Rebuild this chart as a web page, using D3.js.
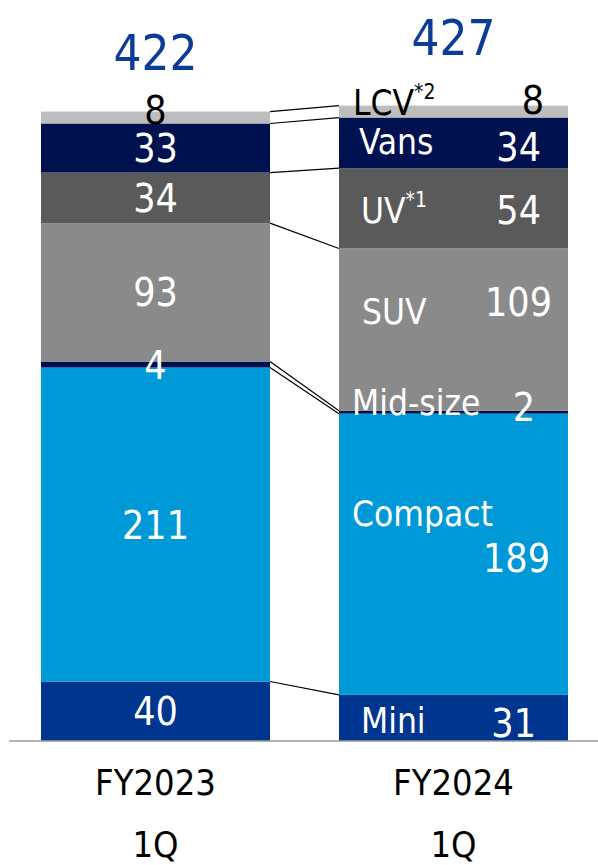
<!DOCTYPE html>
<html lang="en">
<head>
<meta charset="UTF-8">
<script src="https://d3js.org/d3.v7.min.js"></script>
<style>
  body { margin: 0; background: #fff; }
  svg text {
    font-family: "DejaVu Sans Condensed", "DejaVu Sans", sans-serif;
    font-stretch: condensed;
  }
</style>
</head>
<body>
<svg width="598" height="865"></svg>
<script>
// data
const periods = ["FY2023", "FY2024"];
const quarters = ["1Q", "1Q"];
const segments = ["Mini", "Compact", "Mid-size", "SUV", "UV", "Vans", "LCV"];
const fy2023 = [40, 211, 4, 93, 34, 33, 8];
const fy2024 = [31, 189, 2, 109, 54, 34, 8];
const totals = [422, 427];
const superscripts = { "UV": "*1", "LCV": "*2" };

// colours
const color = d3.scaleOrdinal()
    .domain(segments)
    .range(["#00358f", "#0099d8", "#00114f", "#8a8a8a", "#5a5a5a", "#00114f", "#bdbdbd"]);

// label nudges relative to segment centre (layout only)
const left2023 = { "LCV": -8 };
const nameOff = { "LCV": -9, "Vans": -1, "UV": 2, "SUV": -18, "Mid-size": -10, "Compact": -41, "Mini": 2 };
const numOff = { "LCV": -12, "Vans": 4, "UV": 2, "SUV": -28, "Mid-size": -5, "Compact": 4, "Mini": 5 };
const nameX = { "LCV": 14, "Vans": 20, "UV": 22, "SUV": 23, "Mid-size": 13, "Compact": 13, "Mini": 22 };
const numX = { "LCV": -24, "Vans": -27, "UV": -27, "SUV": -16, "Mid-size": -33, "Compact": -18, "Mini": -32 };
const totalOff = [-43, -51];

const svg = d3.select("svg");

const rows = [fy2023, fy2024].map((vals, i) => {
    const r = { period: periods[i] };
    segments.forEach((s, j) => r[s] = vals[j]);
    return r;
});
const series = d3.stack().keys(segments)(rows);

const x = d3.scaleBand()
    .domain(periods)
    .range([41, 568])
    .paddingInner(0.2315)
    .paddingOuter(0);

const y = d3.scaleLinear()
    .domain([0, 430])
    .range([741, 741 - 430 * 1.488]);

// bars
svg.append("g")
    .selectAll("g")
    .data(series)
    .join("g")
    .attr("fill", d => color(d.key))
    .selectAll("rect")
    .data(d => d)
    .join("rect")
    .attr("x", d => x(d.data.period))
    .attr("y", d => y(d[1]))
    .attr("width", x.bandwidth())
    .attr("height", d => y(d[0]) - y(d[1]));

// connector lines between segment tops
svg.append("g")
    .selectAll("line")
    .data(series)
    .join("line")
    .attr("x1", x(periods[0]) + x.bandwidth())
    .attr("y1", d => y(d[0][1]))
    .attr("x2", x(periods[1]))
    .attr("y2", d => y(d[1][1]))
    .attr("stroke", "#000")
    .attr("stroke-width", 1.2);

// axis line
svg.append("line")
    .attr("x1", 9).attr("x2", 598)
    .attr("y1", y(0)).attr("y2", y(0))
    .attr("stroke", "#9a9a9a")
    .attr("stroke-width", 1.5);

const textColor = k => k === "LCV" ? "#000" : "#fff";

// FY2023 values, centred
svg.append("g")
    .selectAll("text")
    .data(series)
    .join("text")
    .attr("x", x(periods[0]) + x.bandwidth() / 2)
    .attr("y", d => y((d[0][0] + d[0][1]) / 2) + (left2023[d.key] || 0))
    .attr("dy", "0.36em")
    .attr("text-anchor", "middle")
    .attr("font-size", 39)
    .attr("fill", d => textColor(d.key))
    .text(d => d[0][1] - d[0][0]);

// FY2024 names on the left
const names = svg.append("g")
    .selectAll("text")
    .data(series)
    .join("text")
    .attr("x", d => x(periods[1]) + nameX[d.key])
    .attr("y", d => y((d[1][0] + d[1][1]) / 2) + nameOff[d.key])
    .attr("dy", "0.36em")
    .attr("font-size", 35)
    .attr("fill", d => textColor(d.key));
names.append("tspan").text(d => d.key);
names.filter(d => superscripts[d.key])
    .append("tspan")
    .attr("font-size", 21)
    .attr("dy", "-0.75em")
    .text(d => superscripts[d.key]);

// FY2024 values on the right
svg.append("g")
    .selectAll("text")
    .data(series)
    .join("text")
    .attr("x", d => x(periods[1]) + x.bandwidth() + numX[d.key])
    .attr("y", d => y((d[1][0] + d[1][1]) / 2) + numOff[d.key])
    .attr("dy", "0.36em")
    .attr("text-anchor", "end")
    .attr("font-size", 39)
    .attr("fill", d => textColor(d.key))
    .text(d => d[1][1] - d[1][0]);

// totals
svg.append("g")
    .selectAll("text")
    .data(totals)
    .join("text")
    .attr("x", (d, i) => x(periods[i]) + x.bandwidth() / 2)
    .attr("y", (d, i) => y(d) + totalOff[i])
    .attr("text-anchor", "middle")
    .attr("font-size", 49)
    .attr("fill", "#0b3c96")
    .text(d => d);

// period labels
const periodLabels = svg.append("g")
    .selectAll("text")
    .data(periods)
    .join("text")
    .attr("x", d => x(d) + x.bandwidth() / 2)
    .attr("y", 795)
    .attr("text-anchor", "middle")
    .attr("font-size", 36)
    .attr("fill", "#000");
periodLabels.append("tspan").text(d => d);
periodLabels.append("tspan")
    .attr("x", d => x(d) + x.bandwidth() / 2)
    .attr("dy", 62)
    .text((d, i) => quarters[i]);
</script>
</body>
</html>
